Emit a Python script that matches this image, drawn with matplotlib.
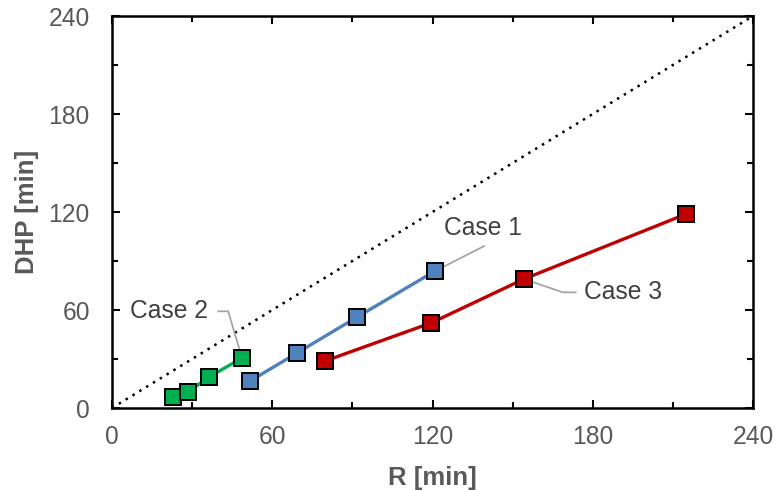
import matplotlib
matplotlib.use("Agg")
import matplotlib.pyplot as plt
from matplotlib.ticker import MultipleLocator

plt.rcParams['font.family'] = ['Liberation Sans', 'DejaVu Sans']

# Data
case1_x = [51.7, 69.3, 91.8, 121.0]
case1_y = [16.5, 33.7, 55.7, 83.9]
case2_x = [22.9, 28.5, 36.3, 48.7]
case2_y = [6.7, 9.8, 19.0, 30.6]
case3_x = [79.8, 119.5, 154.3, 215.0]
case3_y = [28.8, 52.1, 79.0, 118.8]
diag = [0, 240]
ticks = [0, 60, 120, 180, 240]

fig = plt.figure(figsize=(7.79, 4.9), dpi=100)
ax = fig.add_axes([112/779, (490-408)/490, (753-112)/779, (408-16)/490])

ax.plot(diag, diag, linestyle=(0, (1, 2.2)), color='black', lw=1.8, zorder=1)

mk = dict(marker='s', markersize=11.5, markeredgecolor='black', markeredgewidth=1.4, lw=2.4, zorder=3)
ax.plot(case2_x, case2_y, color='#00B050', markerfacecolor='#00B050', **mk)
ax.plot(case1_x, case1_y, color='#4F81BD', markerfacecolor='#4F81BD', **mk)
ax.plot(case3_x, case3_y, color='#C00000', markerfacecolor='#C00000', **mk)

ax.set_xlim(0, 240)
ax.set_ylim(0, 240)
ax.set_xticks(ticks)
ax.set_yticks(ticks)
ax.xaxis.set_minor_locator(MultipleLocator(30))
ax.yaxis.set_minor_locator(MultipleLocator(30))
ax.tick_params(which='both', direction='in', top=True, right=True, width=1.5, color='black')
ax.tick_params(which='major', length=6, labelsize=17.7, labelcolor='#595959')
ax.tick_params(axis='x', which='major', pad=12.5)
ax.tick_params(axis='y', which='major', pad=16)
ax.tick_params(which='minor', length=4)
for s in ax.spines.values():
    s.set_linewidth(1.8)
    s.set_color('black')

ax.set_xlabel('R [min]', fontsize=18.5, fontweight='bold', color='#595959')
ax.set_ylabel('DHP [min]', fontsize=18.5, fontweight='bold', color='#595959')
ax.xaxis.set_label_coords(0.5, (408-466)/392)
ax.yaxis.set_label_coords((39-112)/641, 0.5)

lc = '#A6A6A6'
tc = '#404040'
fs = 17.7
# Case 1
ax.plot([case1_x[3], 139.3], [case1_y[3], 99.1], color=lc, lw=1.3, zorder=2)
ax.text(138.9, 110.2, 'Case 1', fontsize=fs, color=tc, ha='center', va='center')
# Case 2
ax.plot([48.7, 43.5, 39.8], [30.6, 59.2, 59.2], color=lc, lw=1.3, zorder=2)
ax.text(21.3, 59.2, 'Case 2', fontsize=fs, color=tc, ha='center', va='center')
# Case 3
ax.plot([case3_x[2], 168.8, 173.6], [case3_y[2], 70.8, 70.8], color=lc, lw=1.3, zorder=2)
ax.text(191.3, 70.8, 'Case 3', fontsize=fs, color=tc, ha='center', va='center')

fig.savefig('out.png', dpi=100)
